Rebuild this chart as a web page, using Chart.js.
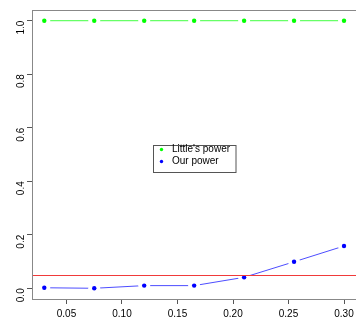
<!DOCTYPE html>
<html>
<head>
<meta charset="utf-8">
<script src="https://cdn.jsdelivr.net/npm/chart.js@4/dist/chart.umd.min.js"></script>
<style>html,body{margin:0;padding:0;background:#fff;}canvas{display:block;}</style>
</head>
<body>
<canvas id="c" width="356" height="322"></canvas>
<script>
const xValues = [0.03, 0.075, 0.12, 0.165, 0.21, 0.255, 0.30];
const littlePower = [1, 1, 1, 1, 1, 1, 1];
const ourPower = [0.002, 0.0, 0.01, 0.01, 0.041, 0.099, 0.158];
const refLine = 0.05;
const xTicks = [0.05, 0.10, 0.15, 0.20, 0.25, 0.30];
const yTicks = [0.0, 0.2, 0.4, 0.6, 0.8, 1.0];
const seriesNames = ["Little's power", "Our power"];
const seriesColors = ['#00ff00', '#0000ff'];
const lineColors = ['rgba(0,255,0,0.75)', 'rgba(0,0,255,0.7)'];

const FONT = 'Liberation Sans, Arial, Helvetica, sans-serif';
const pts = (arr) => xValues.map((x, i) => ({x: x, y: arr[i]}));
const all = [littlePower, ourPower];

const datasets = [];
all.forEach((arr, i) => {
  datasets.push({label: seriesNames[i], data: pts(arr), borderColor: lineColors[i], borderWidth: 1, pointRadius: 0, showLine: true, fill: false, order: 3});
});
all.forEach((arr, i) => {
  datasets.push({label: '_gap' + i, data: pts(arr), showLine: false, pointRadius: 6, pointBackgroundColor: '#fff', pointBorderWidth: 0, order: 2});
});
all.forEach((arr, i) => {
  datasets.push({label: '_pt' + i, data: pts(arr), showLine: false, pointRadius: 2.2, pointBackgroundColor: seriesColors[i], pointBorderWidth: 0, order: 1});
});

const framePlugin = {
  id: 'frame',
  afterDatasetsDraw(chart) {
    const {ctx, chartArea: a, scales} = chart;
    ctx.save();
    const y = scales.y.getPixelForValue(refLine);
    ctx.strokeStyle = '#f03a3a';
    ctx.lineWidth = 1;
    ctx.beginPath();
    ctx.moveTo(a.left, Math.round(y) + 0.5);
    ctx.lineTo(a.right, Math.round(y) + 0.5);
    ctx.stroke();
    ctx.strokeStyle = '#888';
    ctx.strokeRect(a.left + 0.5, a.top + 0.5, a.right - a.left + 2, a.bottom - a.top);
    const bx = 153.5, by = 145.5, bw = 82.5, bh = 27;
    ctx.fillStyle = '#fff';
    ctx.fillRect(bx, by, bw, bh);
    ctx.strokeStyle = '#555';
    ctx.strokeRect(bx, by, bw, bh);
    ctx.font = '10px ' + FONT;
    ctx.textBaseline = 'middle';
    ctx.textAlign = 'left';
    seriesNames.forEach((n, i) => {
      const ly = 149.5 + i * 12;
      ctx.fillStyle = seriesColors[i];
      ctx.beginPath();
      ctx.arc(161.5, ly, 1.7, 0, Math.PI * 2);
      ctx.fill();
      ctx.fillStyle = '#000';
      ctx.fillText(n, 172, ly);
    });
    ctx.restore();
  }
};

new Chart(document.getElementById('c'), {
  type: 'scatter',
  data: {datasets: datasets},
  plugins: [framePlugin],
  options: {
    responsive: false,
    animation: false,
    events: [],
    layout: {autoPadding: false, padding: {top: 10, right: -2, left: 0, bottom: 0}},
    plugins: {legend: {display: false}, tooltip: {enabled: false}},
    scales: {
      x: {
        type: 'linear', min: 0.01893, max: 0.3108,
        afterBuildTicks(s) { s.ticks = xTicks.map(v => ({value: v})); },
        afterFit(s) { s.height = 23; s.paddingLeft = 0; s.paddingRight = 0; s.paddingTop = 0; s.paddingBottom = 0; },
        grid: {display: true, drawOnChartArea: false, drawTicks: true, tickLength: 5, tickColor: '#555', color: '#555'},
        border: {display: true, color: '#888'},
        ticks: {font: {family: FONT, size: 10}, color: '#000', padding: 4, maxRotation: 0, autoSkip: false,
          callback: v => v.toFixed(2)}
      },
      y: {
        type: 'linear', min: -0.04, max: 1.04,
        afterBuildTicks(s) { s.ticks = yTicks.map(v => ({value: v})); },
        afterFit(s) { s.width = 32; s.paddingLeft = 0; s.paddingRight = 0; s.paddingTop = 0; s.paddingBottom = 0; },
        grid: {display: true, drawOnChartArea: false, drawTicks: true, tickLength: 5, tickColor: '#555', color: '#555'},
        border: {display: true, color: '#888'},
        ticks: {font: {family: FONT, size: 10}, color: '#000', padding: 6, minRotation: 90, maxRotation: 90, autoSkip: false,
          callback: v => v.toFixed(1)}
      }
    }
  }
});
</script>
</body>
</html>
